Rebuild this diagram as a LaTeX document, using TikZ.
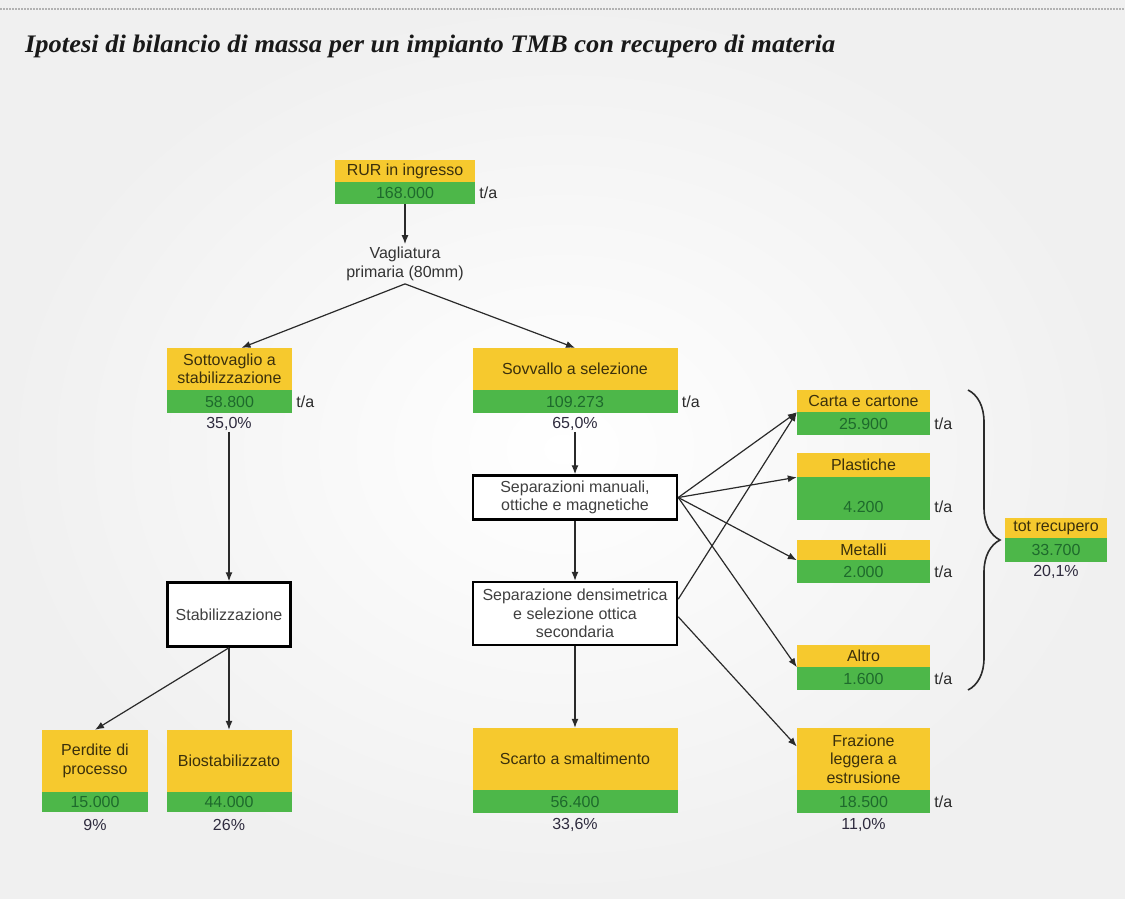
\documentclass[tikz,border=0pt]{standalone}
\usepackage{graphicx}
\usepackage{fontspec}
\setmainfont{Liberation Sans}
\newfontfamily\titlefont{Liberation Serif}
\usetikzlibrary{arrows.meta,calc,decorations.pathreplacing}
\definecolor{ygold}{HTML}{F6C92E}
\definecolor{ggreen}{HTML}{4DB749}
\definecolor{ytext}{HTML}{3B300C}
\definecolor{gtext}{HTML}{1E6A2C}
\definecolor{ptext}{HTML}{2E2B3E}
\definecolor{linec}{HTML}{2A2A2A}
\definecolor{bgc}{HTML}{F0F0F0}
\begin{document}
\begin{tikzpicture}[x=1pt,y=-1pt,
  fnt/.style={font=\fontsize{16}{18.5}\selectfont},
  ybox/.style={fnt, fill=ygold, text=ytext, align=center, inner sep=0pt},
  gbox/.style={fnt, fill=ggreen, text=gtext, align=center, inner sep=0pt},
  gtxt/.style={fnt, text=gtext, inner sep=0pt},
  pct/.style={fnt, text=ptext, inner sep=1pt},
  ta/.style={fnt, text=linec, anchor=west, inner sep=0pt},
  proc/.style={fnt, draw=black, line width=2.5pt, fill=white, text=black!75, align=center, inner sep=0pt},
  plain/.style={fnt, text=black!80, align=center, inner sep=3pt},
  arr/.style={draw=linec, line width=1.2pt, -{Latex[length=9pt,width=7pt]}},
  brc/.style={draw=linec, line width=1.6pt, decorate, decoration={brace, amplitude=32pt}}
]
\useasboundingbox (0,0) rectangle (1125,898);
\shade[inner color=white, outer color=bgc] (0,0) rectangle (1125,898);
\draw[black!30, line width=2pt, dash pattern=on 2pt off 1pt] (0,9) -- (1125,9);

\node[anchor=base west, inner sep=0pt, text=black!90] (title) at (25,52)
  {\resizebox{810pt}{17.5pt}{\titlefont\bfseries\itshape Ipotesi di bilancio di massa per un impianto TMB con recupero di materia}};

% RUR
\node[ybox, minimum width=140pt, minimum height=22pt] (rur_y) at (405,171) {RUR in ingresso};
\node[gbox, minimum width=140pt, minimum height=22pt] (rur_g) at (405,193) {168.000};
\node[ta] (ta_rur) at ($(rur_g.east)+(4,0)$) {t/a};

\node[plain] (vag) at (405,264) {Vagliatura\\primaria (80mm)};

% Sottovaglio
\node[ybox, minimum width=125pt, minimum height=42pt] (sotto_y) at (229.5,369) {Sottovaglio a\\stabilizzazione};
\node[gbox, minimum width=125pt, minimum height=23pt] (sotto_g) at (229.5,401.5) {58.800};
\node[ta] (ta_sotto) at ($(sotto_g.east)+(4,0)$) {t/a};
\node[pct] (p35) at (229,424) {35,0\%};

% Sovvallo
\node[ybox, minimum width=205pt, minimum height=42pt] (sovv_y) at (575,369) {Sovvallo a selezione};
\node[gbox, minimum width=205pt, minimum height=23pt] (sovv_g) at (575,401.5) {109.273};
\node[ta] (ta_sovv) at ($(sovv_g.east)+(4,0)$) {t/a};
\node[pct] (p65) at (575,424) {65,0\%};

% process boxes
\node[proc, minimum width=123pt, minimum height=64pt] (stab) at (229,614.5) {Stabilizzazione};
\node[proc, minimum width=204pt, minimum height=44pt] (sepman) at (575,497.5) {Separazioni manuali,\\ottiche e magnetiche};
\node[proc, minimum width=204pt, minimum height=63pt] (dens) at (575,613.5) {Separazione densimetrica\\e selezione ottica\\secondaria};

% bottom left
\node[ybox, minimum width=106pt, minimum height=62pt] (perd_y) at (95,761) {Perdite di\\processo};
\node[gbox, minimum width=106pt, minimum height=20pt] (perd_g) at (95,802) {15.000};
\node[pct] (p9) at (95,825) {9\%};
\node[ybox, minimum width=125pt, minimum height=62pt] (bio_y) at (229,761) {Biostabilizzato};
\node[gbox, minimum width=125pt, minimum height=20pt] (bio_g) at (229,802) {44.000};
\node[pct] (p26) at (229,825) {26\%};

% Scarto
\node[ybox, minimum width=205pt, minimum height=62pt] (scarto_y) at (575,759) {Scarto a smaltimento};
\node[gbox, minimum width=205pt, minimum height=23pt] (scarto_g) at (575,801.5) {56.400};
\node[pct] (p336) at (575,825) {33,6\%};

% right column
\node[ybox, minimum width=133pt, minimum height=22pt] (carta_y) at (863.5,401) {Carta e cartone};
\node[gbox, minimum width=133pt, minimum height=23pt] (carta_g) at (863.5,423.5) {25.900};
\node[ta] (ta_carta) at ($(carta_g.east)+(4,0)$) {t/a};

\node[ybox, minimum width=133pt, minimum height=24pt] (plast_y) at (863.5,465) {Plastiche};
\node[gbox, minimum width=133pt, minimum height=43pt] (plast_g) at (863.5,498.5) {};
\node[gtxt] (plast_n) at (863.5,507) {4.200};
\node[ta] (ta_plast) at ($(plast_n -| plast_g.east)+(4,0)$) {t/a};

\node[ybox, minimum width=133pt, minimum height=20pt] (met_y) at (863.5,550) {Metalli};
\node[gbox, minimum width=133pt, minimum height=23pt] (met_g) at (863.5,571.5) {2.000};
\node[ta] (ta_met) at ($(met_g.east)+(4,0)$) {t/a};

\node[ybox, minimum width=133pt, minimum height=22pt] (altro_y) at (863.5,656) {Altro};
\node[gbox, minimum width=133pt, minimum height=23pt] (altro_g) at (863.5,678.5) {1.600};
\node[ta] (ta_altro) at ($(altro_g.east)+(4,0)$) {t/a};

\node[ybox, minimum width=133pt, minimum height=62pt] (fraz_y) at (863.5,759) {Frazione\\leggera a\\estrusione};
\node[gbox, minimum width=133pt, minimum height=23pt] (fraz_g) at (863.5,801.5) {18.500};
\node[ta] (ta_fraz) at ($(fraz_g.east)+(4,0)$) {t/a};
\node[pct] (p11) at (863.5,825) {11,0\%};

% tot recupero
\node[ybox, minimum width=102pt, minimum height=20pt] (tot_y) at (1056,528) {tot recupero};
\node[gbox, minimum width=102pt, minimum height=24pt] (tot_g) at (1056,550) {33.700};
\node[pct] (p201) at (1056,572) {20,1\%};

% brace
\coordinate (br_top) at (968,390);
\coordinate (br_bot) at (968,690);
\draw[brc] (br_top) -- (br_bot);

% connectors
\draw[arr] (rur_g.south) -- (vag.north);
\draw[arr] (vag.south) -- ($(sotto_y.north)+(12,0)$);
\draw[arr] (vag.south) -- (sovv_y.north);
\draw[arr] (p35.south) -- (stab.north);
\draw[arr] (p65.south) -- (sepman.north);
\draw[arr] (sepman.south) -- (dens.north);
\draw[arr] (dens.south) -- (scarto_y.north);
\draw[arr] (stab.south) -- (perd_y.north);
\draw[arr] (stab.south) -- (bio_y.north);

\coordinate (dens_a) at ($(dens.north east)!0.28!(dens.south east)$);
\coordinate (dens_b) at ($(dens.north east)!0.55!(dens.south east)$);
\coordinate (fraz_in) at ($(fraz_y.north west)!0.3!(fraz_y.south west)$);
\draw[arr] (sepman.east) -- (carta_y.south west);
\draw[arr] (sepman.east) -- (plast_y.south west);
\draw[arr] (sepman.east) -- (met_y.south west);
\draw[arr] (sepman.east) -- (altro_y.south west);
\draw[arr] (dens_a) -- (carta_y.south west);
\draw[arr] (dens_b) -- (fraz_in);
\end{tikzpicture}
\end{document}
